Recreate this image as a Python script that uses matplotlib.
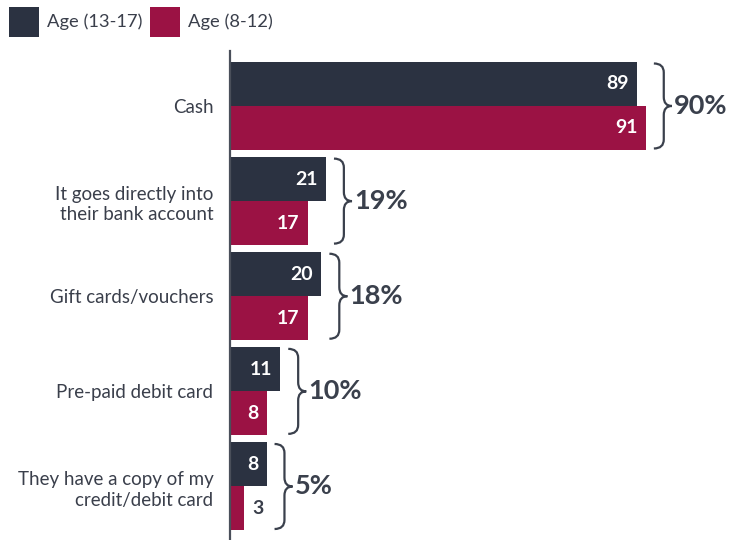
import matplotlib
matplotlib.use("Agg")
import matplotlib.pyplot as plt
from matplotlib.path import Path
from matplotlib.patches import PathPatch, Rectangle

plt.rcParams['font.family'] = ['Lato', 'DejaVu Sans']

categories = [
    "Cash",
    "It goes directly into\ntheir bank account",
    "Gift cards/vouchers",
    "Pre-paid debit card",
    "They have a copy of my\ncredit/debit card",
]
series_names = ["Age (13-17)", "Age (8-12)"]
teens = [89, 21, 20, 11, 8]
kids = [91, 17, 17, 8, 3]
totals = ["90%", "19%", "18%", "10%", "5%"]

DARK = "#2b3241"
RED = "#9b1244"
TEXT = "#3a3f4b"
BRACE = "#3a404c"

W, H, DPI = 730, 540, 100
fig = plt.figure(figsize=(W / DPI, H / DPI), dpi=DPI)
ax = fig.add_axes([230 / W, 0, 500 / W, 1 - 51 / H])

bar_h = 0.4626
ys = list(range(len(categories)))
ax.barh([y - bar_h / 2 for y in ys], teens, height=bar_h, color=DARK)
ax.barh([y + bar_h / 2 for y in ys], kids, height=bar_h, color=RED)

ax.set_xlim(0, 500 / 4.57)
ax.set_ylim(len(categories) - 1 + 0.5625, -0.578)
ax.set_yticks(ys)
ax.set_yticklabels(categories, fontsize=13.5, color=TEXT, linespacing=1.26)
ax.tick_params(axis='y', length=0, pad=12)
ax.set_xticks([])
for side in ("top", "right", "bottom"):
    ax.spines[side].set_visible(False)
ax.spines["left"].set_color("#4a4f5a")
ax.spines["left"].set_linewidth(1.6)

# value labels: inside the bar when it is wide enough, otherwise just outside
for vals, offs in ((teens, -bar_h / 2), (kids, bar_h / 2)):
    for y, v in zip(ys, vals):
        if v >= 5:
            ax.annotate(str(v), (v, y + offs), xytext=(-6, 0), textcoords="offset points",
                        ha="right", va="center", color="white", fontsize=14, fontweight="bold")
        else:
            ax.annotate(str(v), (v, y + offs), xytext=(6, 0), textcoords="offset points",
                        ha="left", va="center", color=TEXT, fontsize=14, fontweight="bold")

fig.canvas.draw()
to_px = ax.transData.transform


def brace(x_left, y_top, y_bot, width=18, r=9):
    xv = x_left + width * 0.55
    xt = x_left + width
    ym = (y_top + y_bot) / 2
    verts = [
        (x_left, y_top), (xv, y_top), (xv, y_top - r),
        (xv, ym + r),
        (xv, ym), (xt, ym),
        (xv, ym), (xv, ym - r),
        (xv, y_bot + r),
        (xv, y_bot), (x_left, y_bot),
    ]
    codes = [Path.MOVETO, Path.CURVE3, Path.CURVE3, Path.LINETO,
             Path.CURVE3, Path.CURVE3, Path.CURVE3, Path.CURVE3,
             Path.LINETO, Path.CURVE3, Path.CURVE3]
    return Path(verts, codes), xt, ym


for y, a, b, label in zip(ys, teens, kids, totals):
    xr, yt = to_px((max(a, b), y - bar_h))
    _, yb = to_px((0, y + bar_h))
    path, xt, ym = brace(xr + 8, yt - 1.5, yb + 1.5)
    fig.add_artist(PathPatch(path, transform=None, fill=False, edgecolor=BRACE, lw=1.6))
    fig.text((xt + 2) / W, ym / H, label, ha="left", va="center", fontsize=19.5,
             fontweight="bold", color=BRACE)

# legend
lx = [9, 150]
for x0, name, col in zip(lx, series_names, [DARK, RED]):
    fig.add_artist(Rectangle((x0 / W, 1 - 37 / H), 30 / W, 30 / H, transform=fig.transFigure,
                             facecolor=col, edgecolor="none"))
    fig.text((x0 + 38) / W, 1 - 22 / H, name, ha="left", va="center", fontsize=13.2, color=TEXT)

fig.savefig("out.png", dpi=DPI)
